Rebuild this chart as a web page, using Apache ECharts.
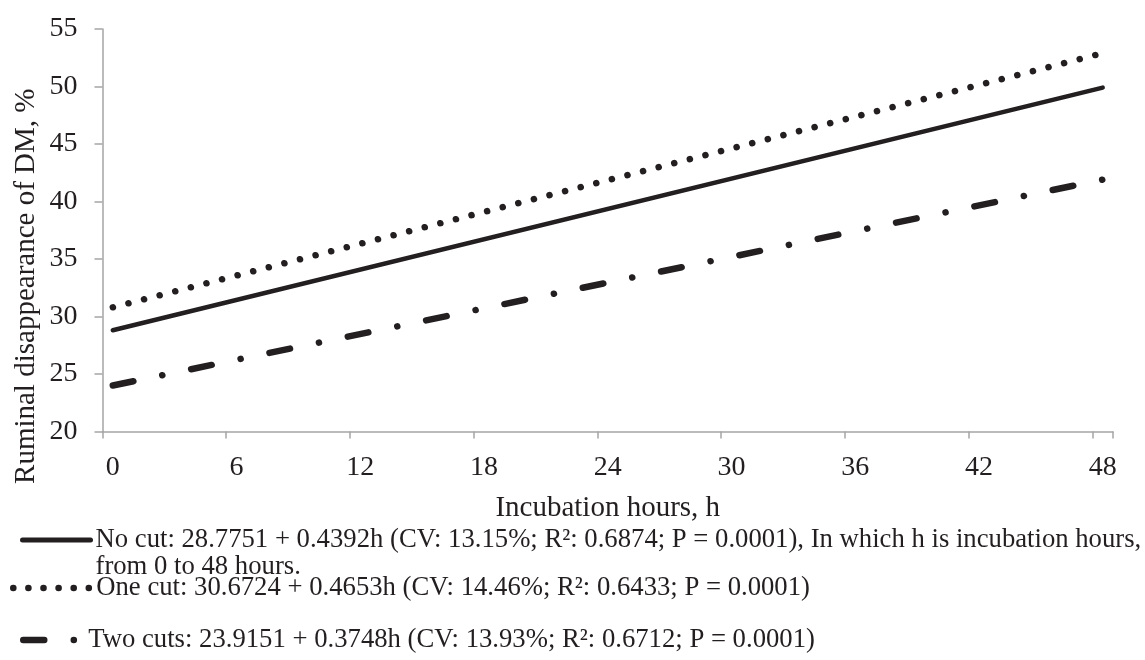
<!DOCTYPE html>
<html>
<head>
<meta charset="utf-8">
<style>
  html, body { margin: 0; padding: 0; background: #fff; }
  #chart { width: 1145px; height: 660px; }
</style>
<script src="https://cdn.jsdelivr.net/npm/echarts@6/dist/echarts.min.js"></script>
</head>
<body>
<div id="chart"></div>
<script>
// hour categories on the x axis
const hours = ['0', '1', '2', '3', '4', '5', '6', '7', '8', '9', '10', '11', '12',
    '13', '14', '15', '16', '17', '18', '19', '20', '21', '22', '23', '24',
    '25', '26', '27', '28', '29', '30', '31', '32', '33', '34', '35', '36',
    '37', '38', '39', '40', '41', '42', '43', '44', '45', '46', '47', '48']
// the regression lines are read at their two ends (h = 0 and h = 48)
const lineEnds = ['0', '48']
const noCut = [28.8, 49.9]
const oneCut = [30.8, 52.9]
const twoCuts = [24.0, 41.9]
const seriesNames = ['No cut', 'One cut', 'Two cuts']
const legendLabels = [
    'No cut: 28.7751 + 0.4392h (CV: 13.15%; R²: 0.6874; P = 0.0001), In which h is incubation hours,',
    'One cut: 30.6724 + 0.4653h (CV: 14.46%; R²: 0.6433; P = 0.0001)',
    'Two cuts: 23.9151 + 0.3748h (CV: 13.93%; R²: 0.6712; P = 0.0001)'
]
const legendExtraLine = 'from 0 to 48 hours.'

const FONT = '"Liberation Serif", "Times New Roman", serif'
const INK = '#231f20'
const AXIS = '#a5a5a5'

const dotted = [0.1, 16]
const dashDot = [21, 29.5, 0.1, 29.4]

function pairs(values) {
    return values.map((v, i) => [lineEnds[i], v])
}

function legendFor(index, opts) {
    return Object.assign({
        orient: 'vertical',
        padding: 0,
        itemHeight: 14,
        selectedMode: false,
        data: [seriesNames[index]],
        formatter: () => legendLabels[index],
        textStyle: { fontFamily: FONT, fontSize: 26.7, color: INK, lineHeight: 27 },
        itemStyle: { opacity: 0 }
    }, opts)
}

const chart = echarts.init(document.getElementById('chart'))
chart.setOption({
    animation: false,
    backgroundColor: '#fff',
    grid: { left: 102.5, right: 32, top: 29, bottom: 228.5, outerBoundsMode: 'none' },
    xAxis: {
        type: 'category',
        data: hours,
        boundaryGap: true,
        name: 'Incubation hours, h',
        nameLocation: 'middle',
        nameGap: 62,
        nameMoveOverlap: false,
        nameTextStyle: { fontFamily: FONT, fontSize: 29, color: INK },
        axisLine: { lineStyle: { color: AXIS, width: 1.5 } },
        axisTick: { show: true, interval: 5, alignWithLabel: false, length: 7, lineStyle: { color: AXIS, width: 1.5 } },
        axisLabel: { interval: 5, margin: 22, fontFamily: FONT, fontSize: 28, color: INK },
        splitLine: { show: false }
    },
    yAxis: {
        type: 'value',
        min: 20,
        max: 55,
        interval: 5,
        name: 'Ruminal disappearance of DM, %',
        nameLocation: 'middle',
        nameGap: 62,
        nameMoveOverlap: false,
        nameTextStyle: { fontFamily: FONT, fontSize: 29, color: INK, padding: [0, 112, 0, 0] },
        axisLine: { show: true, lineStyle: { color: AXIS, width: 1.5 } },
        axisTick: { show: true, length: 8, lineStyle: { color: AXIS, width: 1.5 } },
        axisLabel: { margin: 25, fontFamily: FONT, fontSize: 28, color: INK },
        splitLine: { show: false }
    },
    legend: [
        legendFor(0, {
            left: 20, top: 499.5, itemWidth: 68, itemGap: 0,
            formatter: () => '\n' + legendLabels[0] + '\n' + legendExtraLine,
            lineStyle: { width: 5, type: 'solid', cap: 'round' }
        }),
        legendFor(1, {
            left: 10, top: 574.5, itemWidth: 76,
            textStyle: { fontFamily: FONT, fontSize: 26.7, color: INK, lineHeight: 27, padding: [0, 0, 0, 2] },
            lineStyle: { width: 6.5, type: [0.1, 15], cap: 'round' }
        }),
        legendFor(2, {
            left: 20, top: 626.5, itemWidth: 60,
            lineStyle: { width: 6.5, type: dashDot, cap: 'round' }
        })
    ],
    series: [
        {
            name: seriesNames[0], type: 'line', data: pairs(noCut),
            symbol: 'none', color: INK,
            lineStyle: { color: INK, width: 4.5, cap: 'round' }
        },
        {
            name: seriesNames[1], type: 'line', data: pairs(oneCut),
            symbol: 'none', color: INK,
            lineStyle: { color: INK, width: 6.5, type: dotted, cap: 'round' }
        },
        {
            name: seriesNames[2], type: 'line', data: pairs(twoCuts),
            symbol: 'none', color: INK,
            lineStyle: { color: INK, width: 6.5, type: dashDot, cap: 'round' }
        }
    ]
})
</script>
</body>
</html>
